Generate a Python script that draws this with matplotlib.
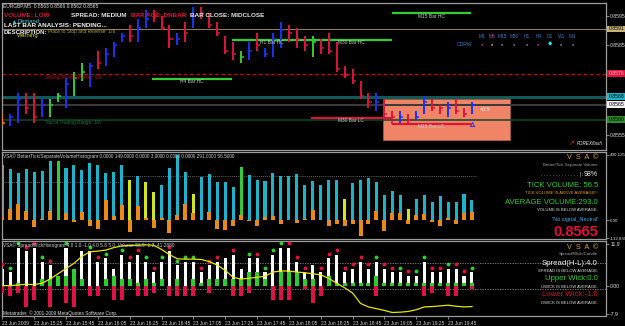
import matplotlib.pyplot as plt
import numpy as np
from matplotlib.transforms import blended_transform_factory
from matplotlib.patches import Rectangle

plt.rcParams['font.family'] = ['Liberation Sans', 'DejaVu Sans']

W, H = 625, 326

# ---- EURGBP M5 price bars ----
highs = [0.8562, 0.8562, 0.8569, 0.8569, 0.8569, 0.8567, 0.8567, 0.8569, 0.8574, 0.8576,
         0.8579, 0.8579, 0.8583, 0.8584, 0.8586, 0.8589, 0.8592, 0.8594, 0.8597, 0.8597,
         0.8595, 0.8592, 0.8589, 0.8593, 0.8598, 0.8598, 0.8596, 0.8593, 0.8588, 0.8586,
         0.8583, 0.8586, 0.8589, 0.8584, 0.8589, 0.8593, 0.8592, 0.8591, 0.8588, 0.8588,
         0.8587, 0.8589, 0.8586, 0.8578, 0.8577, 0.8573, 0.8569, 0.8569, 0.8567, 0.8563,
         0.8563, 0.8562, 0.8563, 0.8568, 0.8567, 0.8565, 0.8566, 0.8567, 0.8564, 0.8566]
lows = [0.8558, 0.8558, 0.8559, 0.8562, 0.8559, 0.8561, 0.8561, 0.8566, 0.8564, 0.8568,
        0.8573, 0.8571, 0.8577, 0.8578, 0.8581, 0.8586, 0.8586, 0.8586, 0.8591, 0.8593,
        0.8590, 0.8584, 0.8585, 0.8586, 0.8591, 0.8594, 0.8591, 0.8588, 0.8582, 0.8580,
        0.8579, 0.8580, 0.8583, 0.8581, 0.8581, 0.8584, 0.8586, 0.8584, 0.8583, 0.8581,
        0.8582, 0.8582, 0.8576, 0.8574, 0.8572, 0.8567, 0.8564, 0.8563, 0.8561, 0.8560,
        0.8559, 0.8559, 0.8560, 0.8562, 0.8563, 0.8562, 0.8561, 0.8562, 0.8561, 0.8562]
closes = [0.8559, 0.8561, 0.8567, 0.8564, 0.8561, 0.8565, 0.8565, 0.8568, 0.8572, 0.8574,
          0.8576, 0.8578, 0.8579, 0.8582, 0.8585, 0.8588, 0.8588, 0.8591, 0.8594, 0.8595,
          0.8591, 0.8587, 0.8587, 0.8589, 0.8595, 0.8596, 0.8592, 0.8589, 0.8583, 0.8582,
          0.8581, 0.8583, 0.8585, 0.8582, 0.8587, 0.8590, 0.8589, 0.8587, 0.8585, 0.8586,
          0.8584, 0.8583, 0.8577, 0.8575, 0.8573, 0.8568, 0.8566, 0.8566, 0.8562, 0.8561,
          0.8561, 0.8560, 0.8561, 0.8566, 0.8564, 0.8564, 0.8564, 0.8563, 0.8562, 0.8565]
bar_kind = list('obbrrbggbggbrbbbrbbrrrbrbrrrrrgbrbbbrrrgrrrrrrrbrrbrbbrrbrrb')

# horizontal levels (price, axis box)
levels = [0.85905, 0.85755, 0.85678, 0.85651, 0.85601]
level_labels = ['0.8591', '0.8576', '0.8568', '0.8565', '0.8560']
level_colors = ['#8C7D55', '#D00000', '#0E5A5A', '#3A3A3A', '#0E4A22']
level_box = ['#C8B27A', '#DC143C', '#20B4C8', '#F0F0F0', '#2E8B2E']
level_txt = ['black', '#FFC0C0', 'black', 'black', 'black']

# higher timeframe bar high/low closes
seg_names = ['M15 Bar HC', 'H1 Bar HC', 'M30 Bar HC', 'H4 Bar HC', 'M30 Bar LC', 'M15 Bar LC']
seg_price = [0.85957, 0.85868, 0.85868, 0.85738, 0.85608, 0.85588]
seg_start = [48.9, 28.9, 38.9, 18.8, 38.8, 48.9]
seg_end = [58.9, 38.9, 48.9, 28.9, 48.9, 58.9]
seg_color = ['#32CD32', '#32CD32', '#32CD32', '#32CD32', '#DC143C', '#DC143C']

# zone box
zone_x0, zone_x1 = 47.8, 63.8
zone_lo, zone_hi = 0.85534, 0.85670

# ---- volume histogram ----
tick_vol = [416, 383, 354, 383, 359, 366, 441, 441, 391, 416, 374, 428, 416, 354, 361, 416,
            299, 329, 289, 209, 264, 391, 486, 359, 199, 321, 349, 284, 289, 249, 396, 339,
            304, 291, 354, 334, 334, 349, 264, 291, 264, 299, 304, 159, 279, 304, 319, 286,
            189, 222, 189, 85, 159, 189, 139, 184, 139, 139, 199, 154]
# c = normal, g = climax, y = low-volume bar
vol_kind = list('cccccccgcc' 'ccccccycyy' 'ccccyccccc' 'gccccccccc' 'cccycccccc' 'cycccccccc')
sep_vol = [17, 85, 122, 72, -50, 10, 67, 0, 55, -15, 65, -45, -65, 154, 30, 117,
           -85, 110, 17, -55, 20, -95, 40, 125, 55, 0, 60, -65, -70, -40, 42, -5,
           -40, 25, 35, -25, 5, -20, 12, 80, 0, -40, -25, -40, -25, -115, -25, 72,
           -80, 55, 55, -25, 40, 50, -15, -45, 20, -25, 55, 60]
avg_vol = [286, 331]
avg_from = [-0.5, 15.2]
avg_to = [15.2, 59.5]

# ---- spread / wick histogram ----
spread = [5, 4, 11, 10, 11, 7, 6, 3, 11, 5, 10, 10, 7, 8, 5, 9, 7, 9, 7, 4, 7, 10, 6, 7, 7,
          4, 6, 7, 8, 9, 5, 8, 8, 4, 9, 11, 11, 7, 4, 6, 4, 8, 9, 4, 5, 7, 5, 7, 5, 4,
          4, 3, 3, 7, 4, 4, 5, 5, 3, 4]
upper = [0, 0, 1, 0, 0, 2, 2, 3, 3, 5, 2, 0, 0, 2, 3, 2, 2, 1, 2, 1, 2, 0, 2, 0, 2, 1, 2, 2, 2,
         2, 2, 4, 4, 2, 0, 4, 4, 4, 2, 2, 0, 3, 1, 1, 1, 1, 1, 3, 1, 1, 1, 1, 1, 1, 1, 1,
         1, 1, 1, 1]
lower = [-2, -3, -2, -6, -4, 0, -6, 0, -5, -6, 0, -3, -3, 0, -4, -4, 0, -3, -3, -2, 0, -3,
         -3, -3, -3, 0, -2, 0, 0, -3, -3, -2, 0, 0, -4, -4, -4, 0, -1, -5, -3, 0, 0, 0, 0,
         0, 0, -3, 0, 0, 0, 0, 0, -3, -2, 0, -3, -3, 0, -1]
dot_kind = list('rggrrgr-g--grg-grrgrgrgggrrr-r-grgggrrr-rrrrrrrgrrgrggrrgrrg')
spread_ma = [0.1, 0.1, 0.3, 0.5, 0.4, 0.8, 2.0, 3.5, 5.0, 6.5, 8.5, 9.8, 10.0, 10.3, 11.0,
             11.5, 11.6, 11.7, 11.8, 11.7, 10.5, 9.0, 7.8, 7.7, 7.7, 7.6, 7.0, 6.0, 4.5, 2.5,
             2.0, 2.2, 2.5, 2.8, 4.0, 4.3, 4.3, 4.0, 3.8, 3.5, 3.2, 2.2, 0.8, -0.5, -2.0,
             -5.0, -6.0, -6.5, -7.0, -7.6, -7.5, -7.3, -6.8, -6.0, -5.9, -5.7, -5.5, -5.8,
             -6.0, -5.9]
spread_avg_lines = [6.5, -1.0]

time_ticks = list(range(0, 60, 4))
time_labels = ['23 Jun 2009', '23 Jun 15:25', '23 Jun 15:45', '23 Jun 16:05', '23 Jun 16:25',
               '23 Jun 16:45', '23 Jun 17:05', '23 Jun 17:25', '23 Jun 17:45', '23 Jun 18:05',
               '23 Jun 18:25', '23 Jun 18:45', '23 Jun 19:05', '23 Jun 19:25', '23 Jun 19:45']

tf_names = ['M1', 'M5', 'M15', 'M30', 'H1', 'H4', 'D1', 'W1', 'MN']
tf_dots = ['#D020D0', '#E0E020', '#9A9A9A', '#9A9A9A', '#9A9A9A', '#D020D0', '#30E0F0',
           '#9A9A9A', '#9A9A9A']

pal = {'b': '#1E32F0', 'r': '#DC143C', 'g': '#32CD32', 'o': '#E8891A',
       'c': '#1FB3C9', 'y': '#D2E61E'}

x = np.arange(len(highs))
xlim = (-0.04, 75.84)
edge = '#9C9C9C'

fig = plt.figure(figsize=(W / 100, H / 100), dpi=100, facecolor='black')


def put(px, py, s, **kw):
    kw.setdefault('va', 'center')
    fig.text(px / W, 1 - py / H, s, **kw)


def panel(top, bottom):
    ax = fig.add_axes([2 / W, 1 - bottom / H, 604 / W, (bottom - top) / H])
    ax.set_facecolor('black')
    for s in ax.spines.values():
        s.set_color(edge)
        s.set_linewidth(0.9)
    ax.set_xlim(*xlim)
    ax.yaxis.tick_right()
    ax.tick_params(axis='y', colors=edge, labelcolor='#E0E0E0', labelsize=3.7,
                   length=2, width=0.6, pad=1)
    return ax


# ---------------- main price panel ----------------
ax1 = panel(3, 150)
ax1.set_ylim(0.85500, 0.85992)
ax1.set_xticks([])
ax1.set_yticks([0.8555, 0.8585, 0.8595])
ax1.set_yticklabels(['0.8555', '0.8585', '0.8595'])

ax1.add_patch(Rectangle((zone_x0, zone_lo), zone_x1 - zone_x0, zone_hi - zone_lo,
                        fc='#F08466', ec='#B05A3C', lw=0.6, zorder=1))
ax1.text(60.6, 0.85637, '<0:5', color='white', fontsize=3.8, ha='center', va='center', zorder=2)

styles = ['-', (0, (3, 2)), '-', '-', '-']
widths = [0.8, 0.9, 2.2, 1.4, 1.1]
btr = blended_transform_factory(ax1.transAxes, ax1.transData)
for lv, lab, c, bc, tc, ls, lw in zip(levels, level_labels, level_colors, level_box,
                                        level_txt, styles, widths):
    ax1.axhline(lv, color=c, ls=ls, lw=lw, zorder=1.5)
    ax1.text(1.004, lv, lab, transform=btr, fontsize=3.7, color=tc, ha='left', va='center',
             clip_on=False, bbox=dict(boxstyle='square,pad=0.18', fc=bc, ec='none'))

for nm, p, a, b, c in zip(seg_names, seg_price, seg_start, seg_end, seg_color):
    ax1.hlines(p, a, b, color=c, lw=1.6, zorder=2)
    ax1.text((a + b) / 2, p - 0.00009, nm, color='#C8C8C8', fontsize=3.5,
             ha='center', va='center', zorder=4)
ax1.vlines(seg_start[-1], seg_price[-1], seg_price[-2], color=seg_color[-1], lw=1.2, zorder=2)

cols = [pal[k] for k in bar_kind]
ax1.vlines(x, lows, highs, colors=cols, lw=1.4, zorder=3)
ax1.hlines(closes, x, x + 0.38, colors=cols, lw=1.1, zorder=3)
ax1.plot(x[-1], seg_price[-1], marker='^', ms=3, mfc='none', mec='#1E32F0', mew=0.7, zorder=3)

# texts on price panel
put(3, 5.3, 'EURGBP,M5  0.8563 0.8566 0.8562 0.8565', color='#E0E0E0', fontsize=3.5)
put(4, 15.3, 'VOLUME: LOW', color='#E0103C', fontsize=4.6, weight='bold')
put(71, 15.3, 'SPREAD: MEDIUM', color='#E6E6E6', fontsize=4.6, weight='bold')
put(131, 15.3, 'BAR POS: DNBAR', color='#E0103C', fontsize=4.6, weight='bold')
put(190, 15.3, 'BAR CLOSE: MIDCLOSE', color='#E6E6E6', fontsize=4.6, weight='bold')
put(11, 21.3, '\u25B2', color='#40C8E0', fontsize=3.5)
put(17, 21.5, 'Demand', color='#40C8E0', fontsize=4.2)
put(4, 25.3, 'LAST BAR ANALYSIS: PENDING...', color='#F0F0F0', fontsize=4.6, weight='bold')
put(48, 31.7, 'Place to Stop and Reverse  1/8', color='#B4A050', fontsize=3.4)
put(17, 35.2, 'Warning', color='#D8D820', fontsize=4.2)
put(4, 33.0, 'DESCRIPTION:', color='#F0F0F0', fontsize=4.4, weight='bold')
put(45, 77.3, 'Strong, Pivot Reverse  5/8', color='#B01818', fontsize=3.4)
put(45, 122.7, 'Top of Trading Range  3/8', color='#1E7A3C', fontsize=3.4)

tf_x = [481.7, 492.3, 502.3, 514, 527, 538.3, 549.7, 561.3, 572.7]
put(457, 44, 'CDRW', color='#3A7BBF', fontsize=3.6)
for tx, nm, dc in zip(tf_x, tf_names, tf_dots):
    put(tx, 36.7, nm, color='#C040C0' if nm == 'M5' else '#3A7BBF', fontsize=3.5, ha='center')
    put(tx, 44, '\u25C6' if nm == 'D1' else '\u25CF', color=dc,
        fontsize=4 if nm == 'D1' else 2.6, ha='center')
put(572, 143, '\u2197', color='#E0103C', fontsize=5, ha='center')
put(577, 143.5, 'FOREXflash', color='#E8E8E8', fontsize=3.3, style='italic')

# ---------------- volume panel ----------------
ax2 = panel(152, 239)
ax2.set_ylim(-139.7, 510)
ax2.set_xticks([])
ax2.set_yticks([490.125, 0, -132.839])
ax2.set_yticklabels(['490.125', '0.00', '-132.839'])
ax2.tick_params(axis='y', labelsize=3.2)
ax2.bar(x, tick_vol, width=0.38, color=[pal[k] for k in vol_kind], zorder=2)
ax2.bar(x, sep_vol, width=0.5, color=pal['o'], zorder=3)
for a, b, v in zip(avg_from, avg_to, avg_vol):
    ax2.hlines(v, a, b, color='#8A8A8A', ls=(0, (1, 1.5)), lw=0.6, zorder=1)

put(3, 156.5, 'VSA\u00a9 BetterTick/SeparateVolumeHistogram 0.0000 149.0000 0.0000 3.0000 '
    '0.0000 0.0000 291.0000 56.5000', color='#D0D0D0', fontsize=3.4)
put(598, 157.5, 'V  S  A  \u00a9', color='#D4A040', fontsize=5.3, ha='right')
put(598, 165, 'Better/Tick Separate Volume', color='#A0A0A0', fontsize=3.2, ha='right')
put(583, 174.3, '. . . . . . . . . . . . . |:', color='#C0C0C0', fontsize=4, ha='right')
put(598, 174.3, '98%', color='#F0F0F0', fontsize=5, ha='right')
put(598, 185, 'TICK VOLUME: 56.5', color='#32CD32', fontsize=5.6, ha='right')
put(598, 192.7, 'TICK VOLUME IS ABOVE AVERAGE!!!', color='#E8A020', fontsize=3.0, ha='right')
put(598, 202.7, 'AVERAGE VOLUME:293.0', color='#32CD32', fontsize=5.6, ha='right')
put(598, 210.3, 'VOLUME IS BELOW AVERAGE.', color='#E0E0E0', fontsize=3.0, ha='right')
put(598, 220, "'No signal_Neutral'", color='#40A8E0', fontsize=4.0, ha='right')
put(598, 231.7, '0.8565', color='#E0103C', fontsize=10.5, weight='bold', ha='right')

# ---------------- spread / wick panel ----------------
ax3 = panel(241, 316)
ax3.set_ylim(-8.6, 12.9)
ax3.set_yticks([11.9, 0.0, -7.9])
ax3.set_yticklabels(['11.9', '0.00', '-7.9'])
ax3.bar(x, spread, width=0.38, color='white', zorder=2)
ax3.bar(x, upper, width=0.5, color='#2ECC2E', zorder=3)
ax3.bar(x, lower, width=0.5, color='#DC1446', zorder=3)
for v in spread_avg_lines:
    ax3.axhline(v, color='#8A8A8A', ls=(0, (1.5, 1.5)), lw=0.6, zorder=1)
dk = np.array(dot_kind)
sp = np.array(spread, dtype=float)
for k, c in (('g', '#32CD32'), ('r', '#DC143C')):
    m = dk == k
    ax3.plot(x[m], sp[m] + 1.3, 'o', color=c, ms=2.8, mew=0, zorder=4)
ax3.plot(x, spread_ma, color='#E6E600', lw=0.9, zorder=5)

ax3.set_xticks(time_ticks)
ax3.set_xticklabels(time_labels)
ax3.tick_params(axis='x', colors=edge, labelcolor='#D0D0D0', labelsize=3.5,
                length=2.5, width=0.6, pad=1)
for t in ax3.get_xticklabels():
    t.set_ha('left')

put(3, 245.5, 'VSA\u00a9 SpreadWickHistogram 4.0 1.0 -1.0 4.0 5.8 5.0  Volume 56.5  1.2  41.2880',
    color='#D0D0D0', fontsize=3.4)
put(3, 313.3, 'Metatrader, \u00a9 2001-2009 MetaQuotes Software Corp.', color='#E0E0E0',
    fontsize=3.4)
put(598, 247.3, 'V  S  A  \u00a9', color='#D4A040', fontsize=5.3, ha='right')
put(598, 254.5, 'Spread/Wick/Candle', color='#A0A0A0', fontsize=3.2, ha='right')
put(598, 263.3, 'Spread(H-L):4.0', color='#F0F0F0', fontsize=5.6, ha='right')
put(598, 271, 'SPREAD IS BELOW AVERAGE.', color='#E0E0E0', fontsize=3.0, ha='right')
put(598, 279, 'Upper Wick:0.0', color='#32CD32', fontsize=5.6, ha='right')
put(598, 287, 'UWICK IS BELOW AVERAGE.', color='#E0E0E0', fontsize=3.0, ha='right')
put(598, 295, 'Lower Wick:-1.0', color='#E01010', fontsize=5.6, ha='right')
put(598, 302.5, 'DWICK IS BELOW AVERAGE.', color='#E0E0E0', fontsize=3.0, ha='right')

fig.savefig('out.png', dpi=100, facecolor='black')
